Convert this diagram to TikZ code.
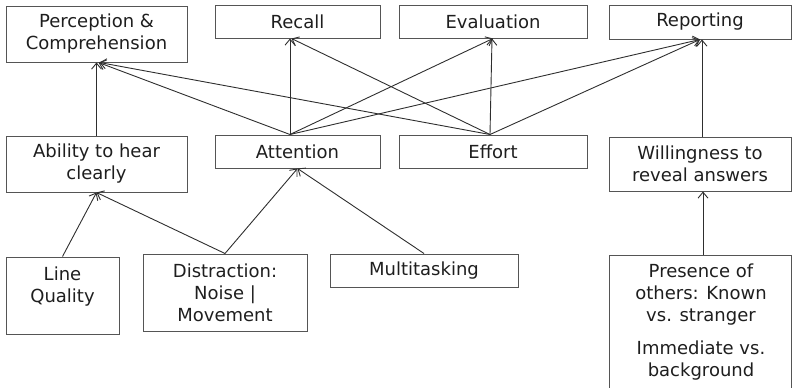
\documentclass[tikz,border=0pt]{standalone}
\usepackage{fontspec}
\setmainfont{DejaVu Sans}
\usetikzlibrary{arrows.meta}
\definecolor{framegray}{HTML}{555555}
\definecolor{linkgray}{HTML}{2E2E2E}
\definecolor{inkgray}{HTML}{1E1E1E}
\begin{document}
\begin{tikzpicture}[x=1pt,y=-1pt,
  box/.style={draw=framegray, line width=1pt, inner sep=0pt, align=center,
              font=\fontsize{18}{22}\selectfont, text=inkgray},
  label/.style={inner sep=0pt, align=center,
              font=\fontsize{18}{22}\selectfont, text=inkgray},
  link/.style={draw=linkgray, line width=0.9pt,
              -{Straight Barb[length=6pt,width=10pt,line width=0.9pt]}}]
\useasboundingbox (0,0) rectangle (793,388);

% top row: stages of answering
\node[box, minimum width=181pt, minimum height=56pt] (perc) at (96.5,34) {Perception \&\\Comprehension};
\node[box, minimum width=165pt, minimum height=33pt] (rec)  at (297.5,21.5) {Recall};
\node[box, minimum width=188pt, minimum height=33pt] (eval) at (493,21.5) {Evaluation};
\node[box, minimum width=182pt, minimum height=34pt] (rep)  at (700,22) {Reporting};

% middle row: respondent factors
\node[box, minimum width=181pt, minimum height=56pt] (abil) at (96.5,164) {Ability to hear\\clearly};
\node[box, minimum width=165pt, minimum height=33pt] (att)  at (297.5,151.5) {Attention};
\node[box, minimum width=188pt, minimum height=33pt] (eff)  at (493,151.5) {Effort};
\node[box, minimum width=182pt, minimum height=54pt] (will) at (700,164) {Willingness to\\reveal answers};

% bottom row: situational factors
\node[box, minimum width=113pt, minimum height=77pt] (lq)    at (62.5,295.5) {Line\\Quality\\\mbox{}};
\node[box, minimum width=164pt, minimum height=77pt] (dist)  at (225,292.5) {Distraction:\\Noise |\\Movement};
\node[box, minimum width=188pt, minimum height=33pt] (multi) at (424,270.5) {Multitasking};
\node[box, minimum width=182pt, minimum height=170pt, anchor=north] (pres) at (700,255) {};
\node[label] (prestxt) at (701,322) {Presence of\\others: Known\\vs. stranger\\[11pt]Immediate vs.\\background};

% influences
\draw[link] (abil.north) -- (perc.south);
\draw[link] ([xshift=-7.5pt]att.north) -- ([xshift=2pt]perc.south);
\draw[link] ([xshift=-7.5pt]att.north) -- ([xshift=-7.5pt]rec.south);
\draw[link] ([xshift=-7.5pt]att.north) -- (eval.south);
\draw[link] ([xshift=-7.5pt]att.north) -- (rep.south);
\draw[link] ([xshift=-3pt]eff.north) -- ([xshift=3pt]perc.south);
\draw[link] ([xshift=-3pt]eff.north) -- ([xshift=-6pt]rec.south);
\draw[link] ([xshift=-3pt]eff.north) -- ([xshift=-1pt]eval.south);
\draw[link] ([xshift=-3pt]eff.north) -- (rep.south);
\draw[link] ([xshift=2pt]will.north) -- ([xshift=2pt]rep.south);
\draw[link] (lq.north) -- (abil.south);
\draw[link] (dist.north) -- (abil.south);
\draw[link] (dist.north) -- (att.south);
\draw[link] (multi.north) -- (att.south);
\draw[link] ([xshift=3pt]pres.north) -- ([xshift=3pt]will.south);
\end{tikzpicture}
\end{document}
